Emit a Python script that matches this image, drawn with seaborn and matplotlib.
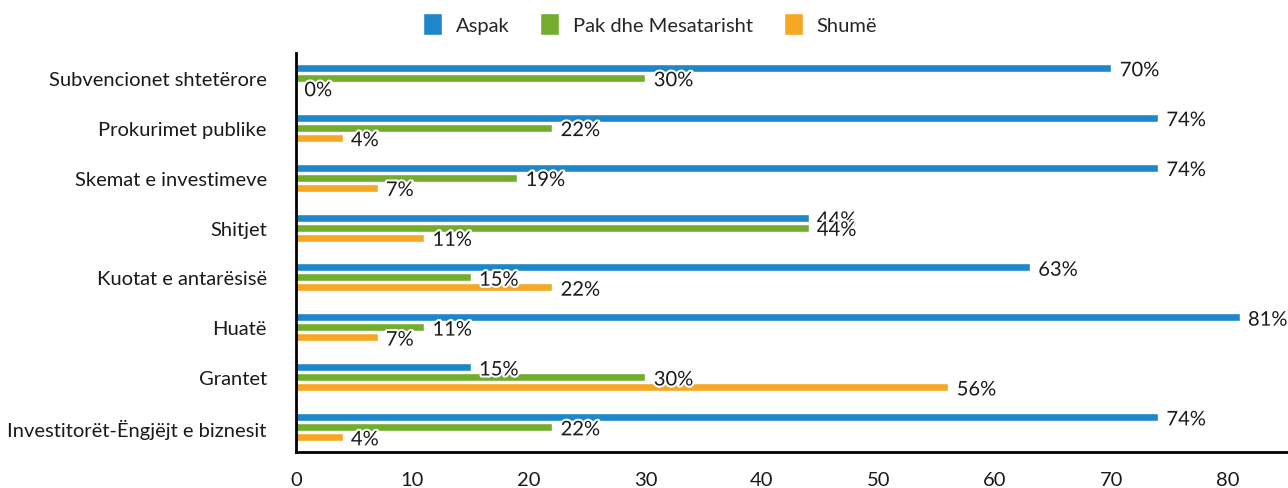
import pandas as pd
import matplotlib.pyplot as plt
import matplotlib.patheffects as pe
from matplotlib.patches import Patch
import seaborn as sns

categories = ['Subvencionet shtetërore', 'Prokurimet publike', 'Skemat e investimeve',
              'Shitjet', 'Kuotat e antarësisë', 'Huatë', 'Grantet',
              'Investitorët-Ëngjëjt e biznesit']
series = ['Aspak', 'Pak dhe Mesatarisht', 'Shumë']
aspak = [70, 74, 74, 44, 63, 81, 15, 74]
pak = [30, 22, 19, 44, 15, 11, 30, 22]
shume = [0, 4, 7, 11, 22, 7, 56, 4]
colors = ['#1e87c9', '#72ad2e', '#f6a723']

df = pd.DataFrame({'cat': categories * 3,
                   'serie': [series[0]] * 8 + [series[1]] * 8 + [series[2]] * 8,
                   'val': aspak + pak + shume})

sns.set_style('white')
plt.rcParams['font.family'] = ['Lato', 'DejaVu Sans']

fig, ax = plt.subplots(figsize=(12.88, 4.89), dpi=100)
fig.subplots_adjust(left=0.2298, right=1.0, top=0.8896, bottom=0.0736)

sns.barplot(data=df, x='val', y='cat', hue='serie', palette=colors, orient='h',
            width=0.6, gap=0.2, saturation=1, ax=ax, legend=False)

# value labels with white halo, a bit below the bar centre
for cont in ax.containers:
    txts = ax.bar_label(cont, fmt='%g%%', padding=6, fontsize=14.5, color='#1a1a1a')
    for t in txts:
        t.set_path_effects([pe.withStroke(linewidth=3, foreground='white')])
        t.set_va('center')
        t.xyann = (6, -2)
        t.set_zorder(5)

ax.set_xlim(0, 85.15)
ax.set_xticks(range(0, 81, 10))
ax.set_xlabel('')
ax.set_ylabel('')
ax.tick_params(axis='y', labelsize=14.5, pad=21, length=0, labelcolor='#1a1a1a')
ax.tick_params(axis='x', labelsize=14.5, pad=14, length=0, labelcolor='#1a1a1a')

for s in ['top', 'right']:
    ax.spines[s].set_visible(False)
for s in ['left', 'bottom']:
    ax.spines[s].set_color('black')
    ax.spines[s].set_linewidth(2)

handles = [Patch(facecolor=c, label=s) for c, s in zip(colors, series)]
fig.legend(handles=handles, loc='center', bbox_to_anchor=(0.5047, 0.949), ncol=3,
           frameon=False, fontsize=14.5, handlelength=0.95, handleheight=1.3,
           columnspacing=1.5, handletextpad=0.7, borderpad=0)

plt.savefig('out.png', dpi=100)
